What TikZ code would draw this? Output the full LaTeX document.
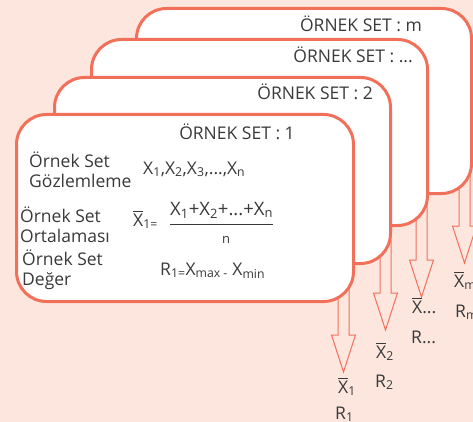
\documentclass[tikz,border=0pt]{standalone}
\usepackage{fontspec}
\setmainfont{Open Sans}
\usetikzlibrary{positioning, calc}
\definecolor{coral}{HTML}{F2705A}
\definecolor{peach}{HTML}{FCE6DE}
\definecolor{ink}{HTML}{3A3A3A}
\newcommand{\Xbar}{\makebox[0pt][l]{\rule[0.8em]{0.58em}{0.05em}}X}
\newcommand{\Sub}[1]{\textsubscript{#1}}
\newcommand{\BlockArrow}[2]{%
  \draw[blockarr] let \p1=(#1), \p2=(#2) in
    (\x1-5.5pt,\y1) -- (\x1-5.5pt,\y2+37pt) -- (\x1-12pt,\y2+37pt) -- (\x1,\y2)
    -- (\x1+12pt,\y2+37pt) -- (\x1+5.5pt,\y2+37pt) -- (\x1+5.5pt,\y1) -- cycle;}
\tikzset{
    card/.style={draw=coral, fill=white, line width=3pt, rounded corners=30pt,
      minimum width=336pt, minimum height=186pt, anchor=north west, inner sep=0pt},
    blockarr/.style={draw=coral, fill=peach, line width=1pt, line join=miter},
    lbl/.style={inner sep=0pt, text=ink, align=left},
    title/.style={inner sep=0pt, text=ink, anchor=base east},
}

\begin{document}
\begin{tikzpicture}[x=1pt, y=-1pt, font=\fontsize{17.5}{20}\selectfont]
    \fill[peach] (0,0) rectangle (473,422);
    \useasboundingbox (0,0) rectangle (473,422);

    % arrows below the cards
    \coordinate (s1) at (343.5,280);  \coordinate (t1) at (343.5,372);
    \coordinate (s2) at (385.5,240);  \coordinate (t2) at (385.5,330);
    \coordinate (s3) at (421.5,200);  \coordinate (t3) at (421.5,297);
    \coordinate (s4) at (464.5,170);  \coordinate (t4) at (464.5,263);
    \BlockArrow{s1}{t1}
    \BlockArrow{s2}{t2}
    \BlockArrow{s3}{t3}
    \BlockArrow{s4}{t4}

    % stacked cards
    \node[card, minimum width=335pt, minimum height=185pt] (b4) at (135,7) {};
    \node[card] (b3) at (90,38) {};
    \node[card] (b2) at (53,76) {};
    \node[card, minimum width=337pt, minimum height=187pt] (b1) at (15,113) {};

    \node[title] (t4n) at (422,32) {ÖRNEK SET : m};
    \node[title] (t3n) at (413,63) {ÖRNEK SET : ...};
    \node[title] (t2n) at (373,100) {ÖRNEK SET : 2};
    \node[title, anchor=base] (t1n) at (237,140) {ÖRNEK SET : 1};

    % first card contents
    \node[lbl, anchor=west] (obs) at (29,170) {Örnek Set\\Gözlemleme};
    \node[lbl, anchor=base west] (obsx) at (143,174)
      {X\Sub{1},X\Sub{2},X\Sub{3},...,X\Sub{n}};
    \node[lbl, anchor=west] (avg) at (20,225) {Örnek Set\\Ortalaması};
    \node[lbl, anchor=base west] (avgx) at (133,226) {\Xbar\Sub{1=}};
    \node[lbl, anchor=base west, font=\fontsize{18.5}{20}\selectfont] (num) at (170,215)
      {X\Sub{1}+X\Sub{2}+...+X\Sub{n}};
    \draw[ink, line width=1pt] ([yshift=-6pt]num.south west) -- ([yshift=-6pt]num.south east);
    \node[lbl, anchor=base, font=\fontsize{13}{15}\selectfont] (den) at (226,243) {n};
    \node[lbl, anchor=west] (rng) at (22,270) {Örnek Set\\Değer};
    \node[lbl, anchor=base west] (rngx) at (160,275)
      {R\Sub{1=}X\Sub{max -} X\Sub{min}};

    % results under the arrows
    \node[lbl, anchor=base west] (xb1) at (338,393) {\Xbar\Sub{1}};
    \node[lbl, anchor=base west] (r1) at (335,419) {R\Sub{1}};
    \node[lbl, anchor=base west] (xb2) at (376,358) {\Xbar\Sub{2}};
    \node[lbl, anchor=base west] (r2) at (375,387) {R\Sub{2}};
    \node[lbl, anchor=base west] (xb3) at (412,313) {\Xbar...};
    \node[lbl, anchor=base west] (r3) at (411,343) {R...};
    \node[lbl, anchor=base west] (xb4) at (454,287) {\Xbar\Sub{m}};
    \node[lbl, anchor=base west] (r4) at (455,317) {R\Sub{m}};
\end{tikzpicture}
\end{document}
